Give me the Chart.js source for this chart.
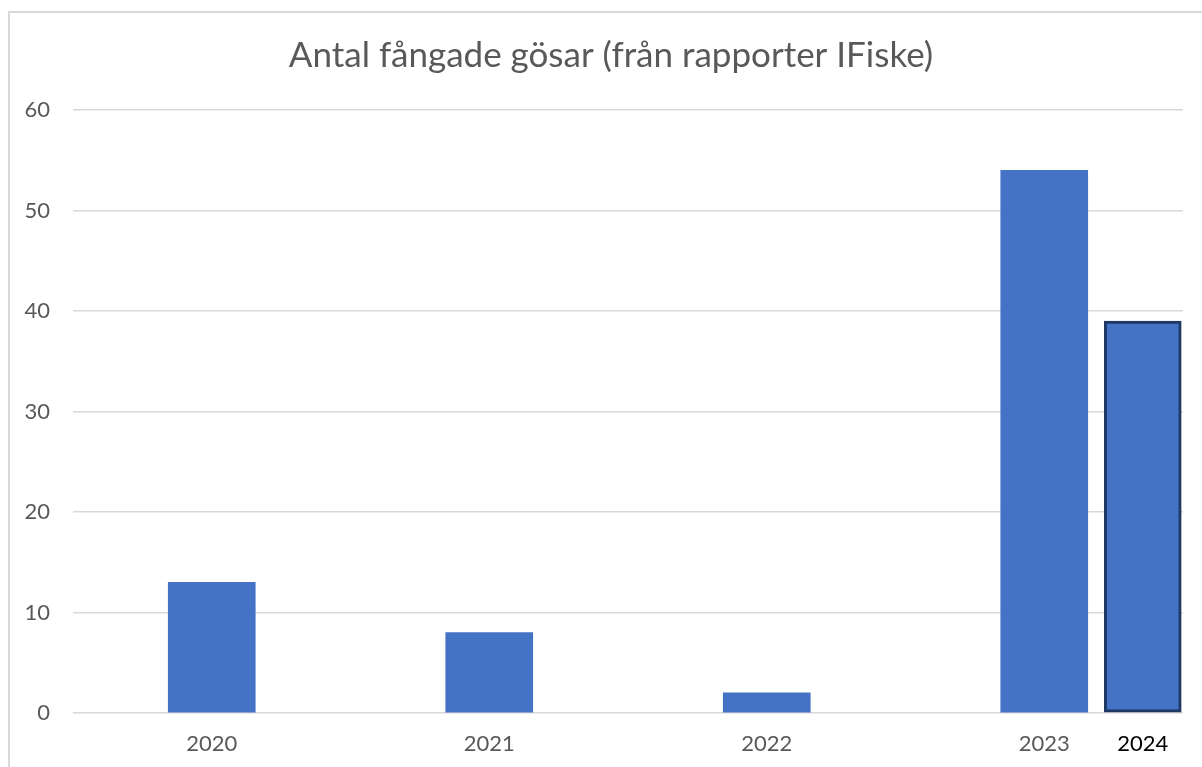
<!DOCTYPE html>
<html>
<head>
<meta charset="utf-8">
<script src="https://cdn.jsdelivr.net/npm/chart.js@4"></script>
<style>
  html, body { margin: 0; padding: 0; background: #fff; overflow: hidden; width: 1202px; height: 767px; }
  #wrap { position: absolute; left: 0; top: 0; width: 1202px; height: 767px; }
  #frame { position: absolute; left: 8px; top: 11px; width: 1400px; height: 900px;
           border-top: 2px solid #d9d9d9; border-left: 2px solid #d9d9d9; }
</style>
</head>
<body>
<div id="frame"></div>
<div id="wrap"><canvas id="c" width="1202" height="767"></canvas></div>
<script>
// ---- data ----
const years = ['2020', '2021', '2022', '2023'];
const catches = [13, 8, 2, 54];
const addedYear = '2024';
const addedCatches = 39;
const titleText = 'Antal fångade gösar (från rapporter IFiske)';

// ---- layout constants ----
const addedPos = 3.355;          // x position of the added bar, in category units
const titleSpan = [39, 1183];    // horizontal span the title is centred over

const FONT = 'Lato, "Open Sans", sans-serif';
const GRAY = '#595959';

const mainData = years.map((y, i) => ({ x: i, y: catches[i] }));
const addedData = [{ x: addedPos, y: addedCatches }];

const titleSpanPlugin = {
  id: 'titleSpan',
  afterLayout(chart) {
    const t = chart.titleBlock;
    if (t) { t.left = titleSpan[0]; t.right = titleSpan[1]; t.width = titleSpan[1] - titleSpan[0]; }
  }
};

new Chart(document.getElementById('c'), {
  type: 'bar',
  data: {
    datasets: [
      { data: mainData, backgroundColor: '#4472c4', borderWidth: 0, barThickness: 87 },
      { data: addedData, backgroundColor: '#4472c4', borderColor: '#1f3864', borderWidth: 3,
        borderSkipped: false, barThickness: 77 }
    ]
  },
  plugins: [titleSpanPlugin],
  options: {
    responsive: false,
    animation: false,
    layout: { padding: { left: 0, right: 19, top: 10, bottom: 11 } },
    datasets: { bar: { grouped: false } },
    plugins: {
      legend: { display: false },
      tooltip: { enabled: false },
      title: {
        display: true,
        text: titleText,
        color: GRAY,
        font: { family: FONT, size: 35, weight: 'normal', lineHeight: 1.2 },
        padding: { top: 25, bottom: 33 }
      }
    },
    scales: {
      x: {
        type: 'linear',
        offset: false,
        min: -0.5,
        max: 3.5,
        grid: { display: false, drawTicks: false, tickLength: 0 },
        border: { display: false },
        afterBuildTicks(scale) {
          scale.ticks = years.map((_, i) => ({ value: i })).concat([{ value: addedPos }]);
        },
        afterFit(scale) { scale.height = 43; },
        ticks: {
          autoSkip: false,
          maxRotation: 0,
          padding: 18,
          callback: (v, i) => (i < years.length ? years[i] : addedYear),
          color: (ctx) => (ctx.index < years.length ? GRAY : '#000000'),
          font: { family: FONT, size: 22 }
        }
      },
      y: {
        min: 0,
        max: 60,
        afterFit(scale) { scale.width = 73; },
        ticks: { stepSize: 10, padding: 23, color: GRAY, font: { family: FONT, size: 22 } },
        grid: { color: '#d9d9d9', lineWidth: 1.5, drawTicks: false },
        border: { display: false }
      }
    }
  }
});
</script>
</body>
</html>
